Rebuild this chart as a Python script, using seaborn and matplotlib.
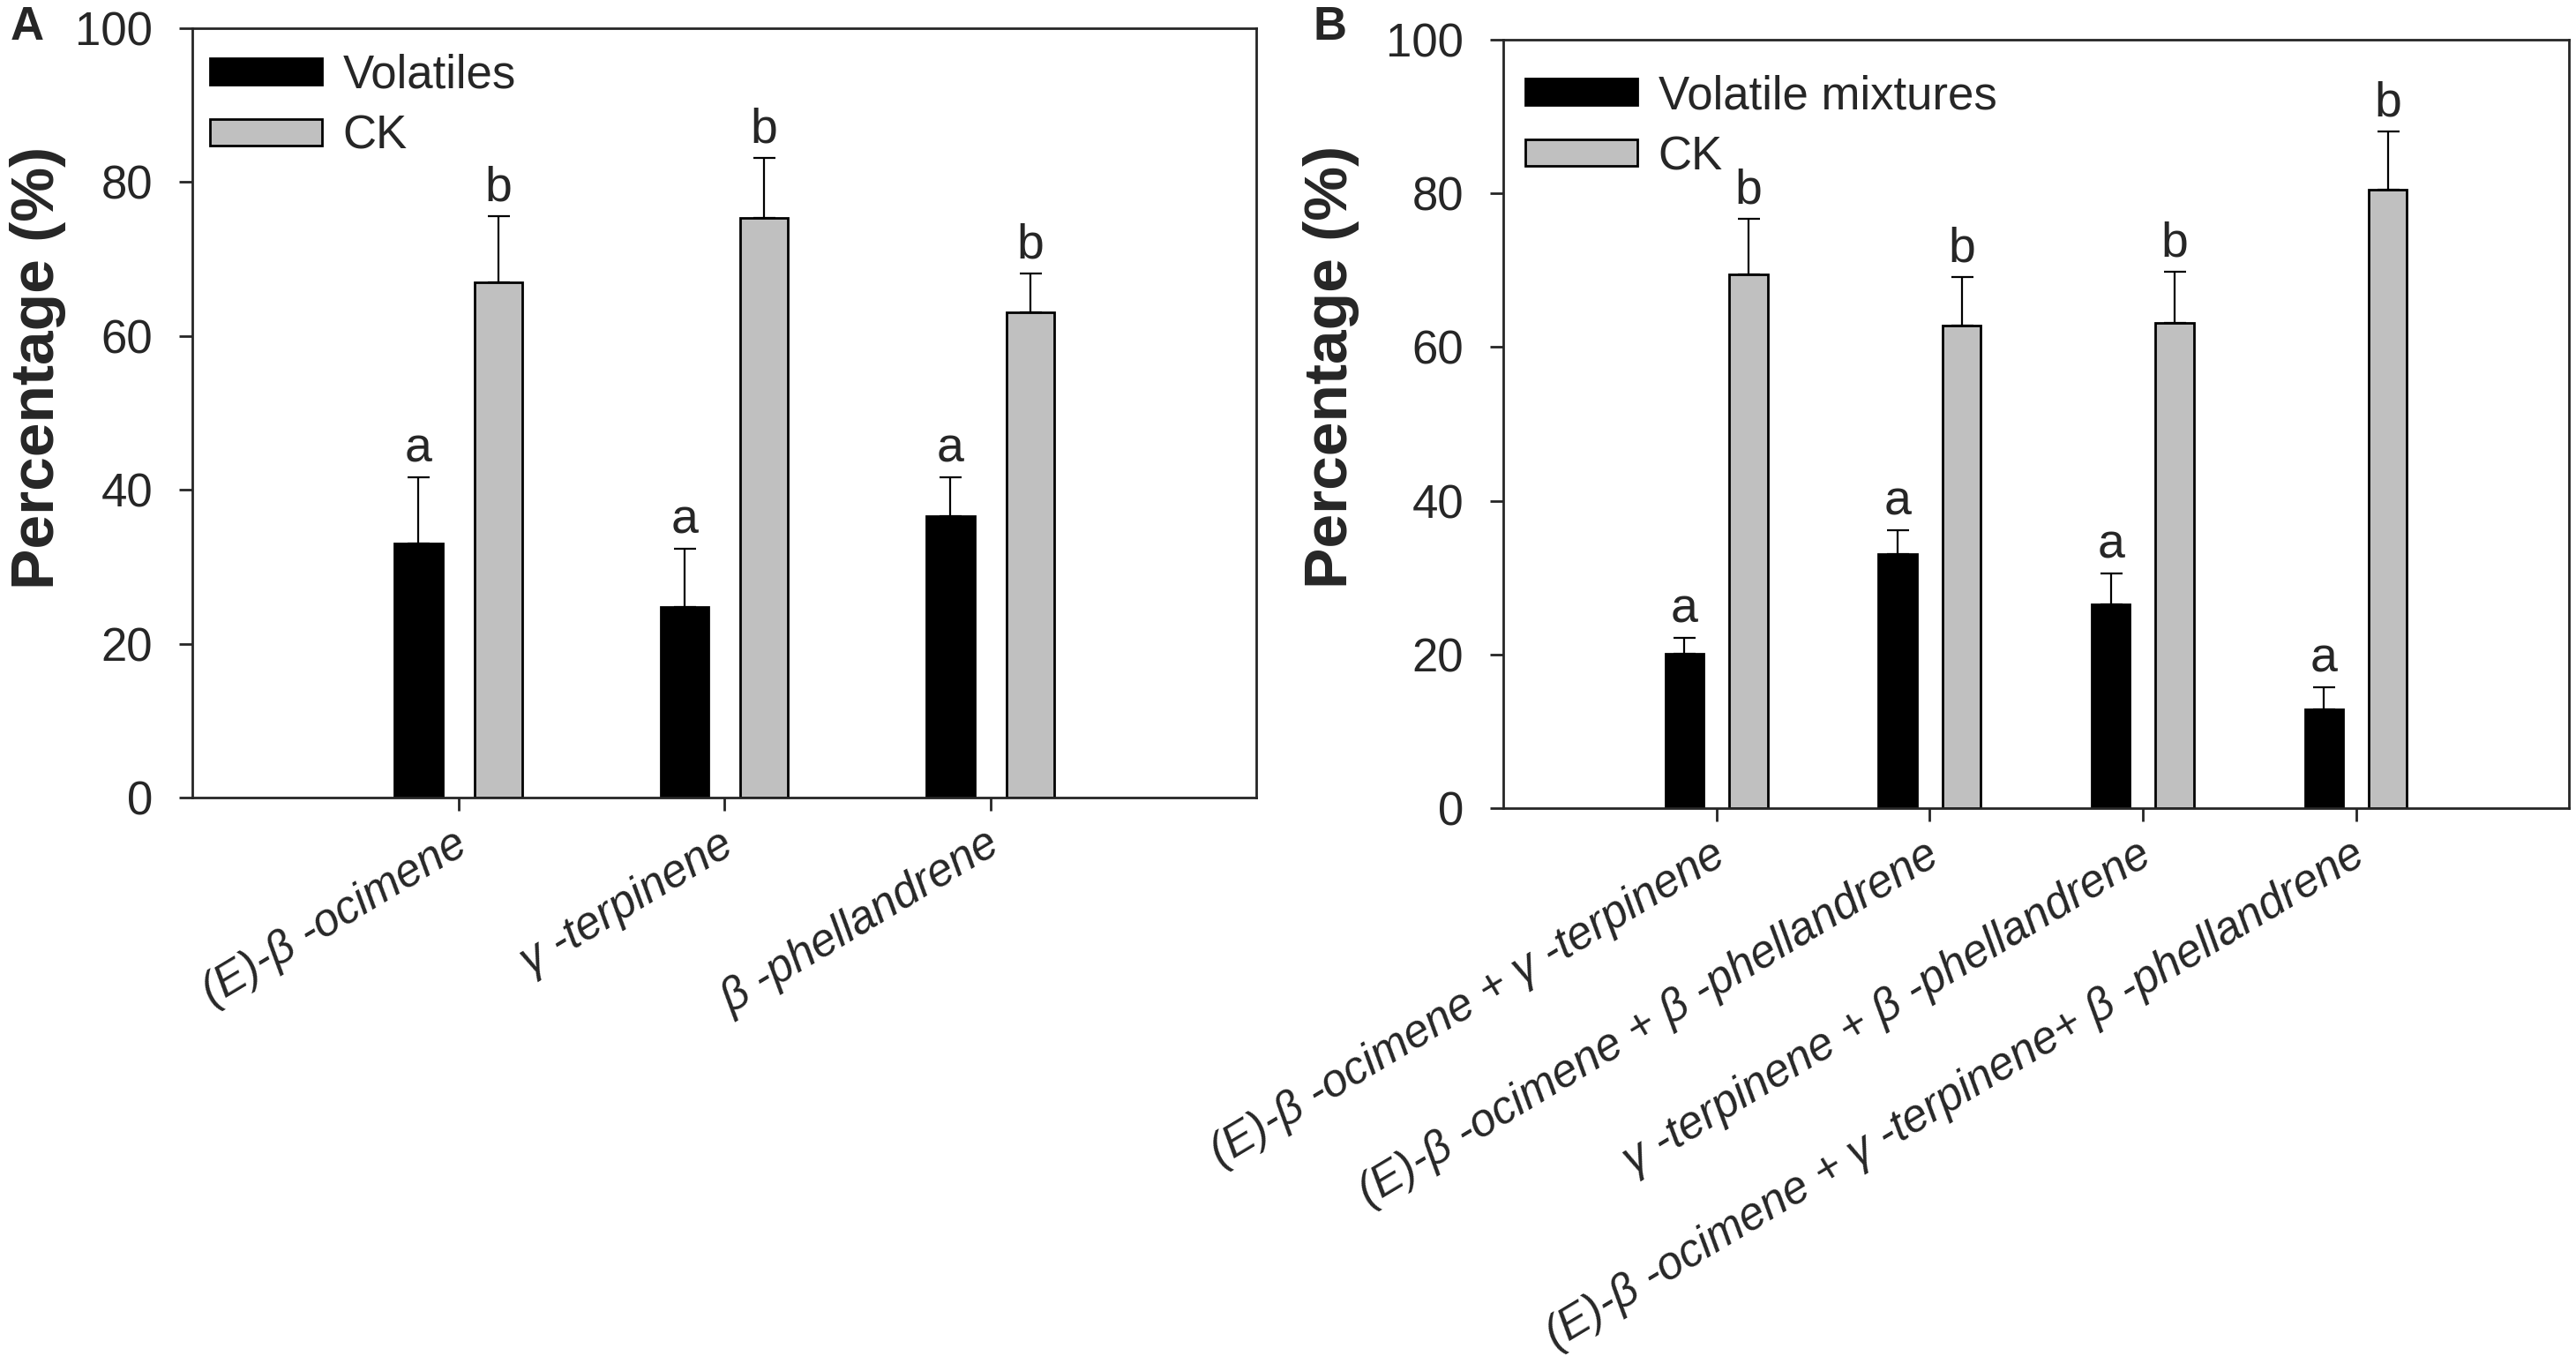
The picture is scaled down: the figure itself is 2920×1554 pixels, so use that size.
import numpy as np
import pandas as pd
import matplotlib
matplotlib.use("Agg")
import matplotlib.pyplot as plt
import seaborn as sns
from matplotlib.patches import Patch
from matplotlib.transforms import ScaledTranslation

# panel A: single volatiles
cats_a = ["(E)-β -ocimene", "γ -terpinene", "β -phellandrene"]
vol_a = [33.0, 24.8, 36.6]
vol_a_err = [8.6, 7.5, 5.0]
ck_a = [67.0, 75.3, 63.1]
ck_a_err = [8.6, 7.8, 5.0]
let_vol_a = ["a", "a", "a"]
let_ck_a = ["b", "b", "b"]

# panel B: mixtures
cats_b = ["(E)-β -ocimene + γ -terpinene",
          "(E)-β -ocimene + β -phellandrene",
          "γ -terpinene + β -phellandrene",
          "(E)-β -ocimene + γ -terpinene+ β -phellandrene"]
vol_b = [20.1, 33.0, 26.5, 12.9]
vol_b_err = [2.1, 3.1, 4.0, 2.8]
ck_b = [69.5, 62.8, 63.1, 80.5]
ck_b_err = [7.2, 6.3, 6.7, 7.6]
let_vol_b = ["a", "a", "a", "a"]
let_ck_b = ["b", "b", "b", "b"]

sns.set_style("ticks")
plt.rcParams["font.family"] = ["Liberation Sans", "DejaVu Sans"]

GRAY = "#C0C0C0"
FS = 38


def panel(ax, cats, name, vals, errs, ckv, cke, let_t, let_c, lab_xy, leg_xy):
    n = len(cats)
    df = pd.DataFrame({
        "compound": cats + cats,
        "group": [name] * n + ["CK"] * n,
        "value": vals + ckv,
    })
    sns.barplot(data=df, x="compound", y="value", hue="group", order=cats,
                hue_order=[name, "CK"], palette=["black", GRAY], saturation=1,
                width=0.6, gap=0.4, edgecolor="black", linewidth=2,
                errorbar=None, legend=False, ax=ax)

    for cont, e, lets in zip(ax.containers, [errs, cke], [let_t, let_c]):
        bars = sorted(cont.patches, key=lambda p: p.get_x())
        xs = [b.get_x() + b.get_width() / 2 for b in bars]
        ys = [b.get_height() for b in bars]
        ax.errorbar(xs, ys, yerr=[np.zeros(n), e], fmt="none", ecolor="black",
                    elinewidth=1.6, capsize=9, capthick=1.6, zorder=3)
        for x, y, ee, l in zip(xs, ys, e, lets):
            ax.annotate(l, (x, y + ee), xytext=(0, 4), textcoords="offset points",
                        ha="center", va="bottom", fontsize=40)

    ax.set_xlim(-1, n)
    ax.set_ylim(0, 100)
    ax.set_yticks(range(0, 101, 20))
    ax.set_xlabel("")
    ax.set_ylabel("Percentage (%)", fontsize=50, fontweight="bold")
    ax.yaxis.set_label_coords(*lab_xy)
    for s in ax.spines.values():
        s.set_visible(True)
        s.set_linewidth(2)
    ax.tick_params(axis="y", direction="out", length=10.8, width=2, pad=21.6,
                   labelsize=FS)
    ax.tick_params(axis="x", direction="out", length=10.8, width=2, pad=25)
    ax.set_xticks(range(n))
    ax.set_xticklabels(cats, rotation=31, ha="right", va="center",
                       rotation_mode="anchor", fontsize=37, fontstyle="italic")
    shift = ScaledTranslation(0.06, 0, ax.figure.dpi_scale_trans)
    for t in ax.get_xticklabels():
        t.set_transform(t.get_transform() + shift)

    handles = [Patch(facecolor="black", edgecolor="black", lw=2),
               Patch(facecolor=GRAY, edgecolor="black", lw=2)]
    ax.legend(handles=handles, labels=[name, "CK"], loc="upper left",
              bbox_to_anchor=leg_xy, frameon=False, fontsize=FS,
              handlelength=2.4, handleheight=0.5, handletextpad=0.45,
              labelspacing=0.36, borderpad=0, borderaxespad=0)


fig = plt.figure(figsize=(29.2, 15.54), dpi=100)
ax_a = fig.add_axes([0.0747, 0.4183, 0.4130, 0.5611])
ax_b = fig.add_axes([0.5836, 0.4106, 0.4137, 0.5605])

panel(ax_a, cats_a, "Volatiles", vol_a, vol_a_err, ck_a, ck_a_err,
      let_vol_a, let_ck_a, (-0.1185, 0.5585), (0.0166, 0.967))
panel(ax_b, cats_b, "Volatile mixtures", vol_b, vol_b_err, ck_b, ck_b_err,
      let_vol_b, let_ck_b, (-0.135, 0.574), (0.0207, 0.955))

fig.text(12 / 2920, 1 - 45 / 1554, "A", fontsize=38, fontweight="bold", va="baseline")
fig.text(1488 / 2920, 1 - 45 / 1554, "B", fontsize=38, fontweight="bold", va="baseline")

fig.savefig("out.png", dpi=100)
